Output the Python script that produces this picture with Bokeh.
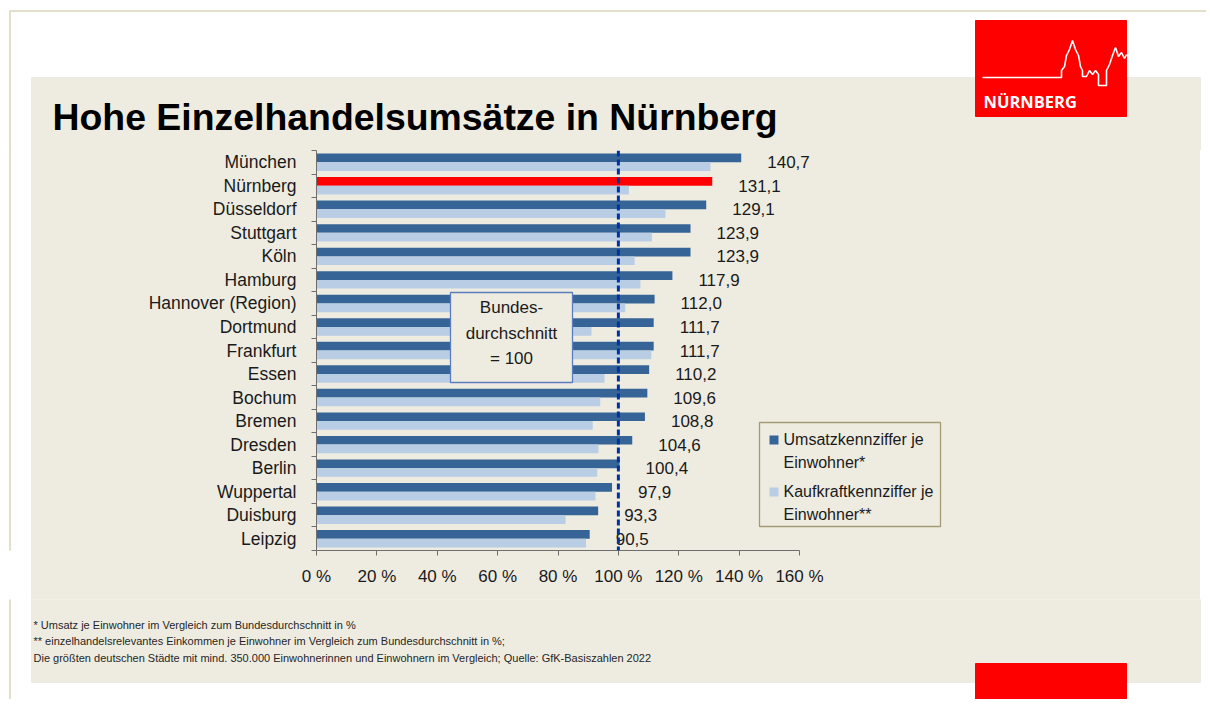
from bokeh.plotting import figure
from bokeh.layouts import column, row
from bokeh.models import (Range1d, FactorRange, LinearAxis, CategoricalAxis, FixedTicker,
                          BoxAnnotation, Label, Span, ColumnDataSource)
from bokeh.transform import dodge
from bokeh.core.properties import value
from bokeh.embed import file_html
from bokeh.resources import INLINE

# ---------------- data ----------------
cities = ["München", "Nürnberg", "Düsseldorf", "Stuttgart", "Köln", "Hamburg",
          "Hannover (Region)", "Dortmund", "Frankfurt", "Essen", "Bochum", "Bremen",
          "Dresden", "Berlin", "Wuppertal", "Duisburg", "Leipzig"]
umsatz = [140.7, 131.1, 129.1, 123.9, 123.9, 117.9, 112.0, 111.7, 111.7, 110.2,
          109.6, 108.8, 104.6, 100.4, 97.9, 93.3, 90.5]
kaufkraft = [130.5, 103.5, 115.6, 111.1, 105.4, 107.3, 102.3, 91.1, 110.9, 95.4,
             94.0, 91.5, 93.4, 93.0, 92.4, 82.5, 89.3]
highlight_city = "Nürnberg"
x_ticks = [0, 20, 40, 60, 80, 100, 120, 140, 160]
x_tick_labels = ["0 %", "20 %", "40 %", "60 %", "80 %", "100 %", "120 %", "140 %", "160 %"]
average_value = 100
legend_labels = [["Umsatzkennziffer je", "Einwohner*"],
                 ["Kaufkraftkennziffer je", "Einwohner**"]]
title_text = "Hohe Einzelhandelsumsätze in Nürnberg"
average_box_lines = ["Bundes-", "durchschnitt", "= 100"]
footnotes = ["* Umsatz je Einwohner im Vergleich zum Bundesdurchschnitt in %",
             "** einzelhandelsrelevantes  Einkommen je Einwohner im Vergleich zum Bundesdurchschnitt in %;",
             "Die größten deutschen Städte mit mind. 350.000 Einwohnerinnen und Einwohnern im Vergleich; Quelle: GfK-Basiszahlen 2022"]
logo_text = "NÜRNBERG"

# ---------------- style ----------------
BEIGE = "#EEECE1"
DARK = "#376496"
LIGHT = "#B9CDE5"
RED = "#FF0000"
AXIS = "#6E6E6E"
TXT = "#1A1A1A"
TAN = "#C8BE96"
FONT = "Liberation Sans"

N = len(cities)
PAGE_W = 1206
FX0, FX1, FY0, FY1 = 316, 799, 150, 550   # 0 % .. 160 % and top/bottom of the bar area (page px)
XMAX = 160
PANEL_L, PANEL_R, PANEL_T, PANEL_B = 31, 1200, 77, 683
CHART_BOTTOM = 600
PAGE_H = 700

def X(px):   # page x pixel -> chart data x (decorations only)
    return (px - FX0) / (FX1 - FX0) * XMAX

def Y(py):   # page y pixel -> synthetic categorical y (decorations only)
    return (FY1 - py) / (FY1 - FY0) * N

def deco_fig(w, y0, y1, x0=0, styles=None):
    f = figure(width=w, height=y1 - y0, x_range=Range1d(x0, x0 + w), y_range=Range1d(y1, y0),
               output_backend="svg", toolbar_location=None, min_border=0,
               x_axis_location=None, y_axis_location=None, outline_line_color=None,
               background_fill_color="white", border_fill_color="white",
               styles=styles or {})
    f.grid.visible = False
    return f

# ---------------- header ----------------
head = deco_fig(PAGE_W, 0, FY0)
head.quad(left=PANEL_L, right=PANEL_R, top=PANEL_T, bottom=FY0 + 4, color=BEIGE)
head.segment(x0=10, y0=10.5, x1=PAGE_W + 4, y1=10.5, line_color=TAN, line_width=1)
head.segment(x0=9.5, y0=10, x1=9.5, y1=FY0 + 4, line_color=TAN, line_width=1)
head.quad(left=975, right=1126, top=20, bottom=116, color=RED)
sky_x = [982, 1061, 1061, 1064, 1066, 1069, 1072, 1075, 1078, 1080, 1082, 1082, 1086, 1089,
         1092, 1095, 1098, 1098, 1106, 1106, 1109, 1112, 1115, 1118, 1121, 1124, 1126]
sky_y = [77, 77, 70, 66, 55, 49, 40, 49, 55, 66, 70, 76, 76, 70, 74, 70, 74, 85, 85, 70,
         64, 55, 47, 56, 52, 58, 54]
head.line(sky_x, sky_y, line_color="white", line_width=1.6)
head.text(x=[983], y=[101], text=[logo_text], text_font=value("Open Sans"),
          text_font_style="bold", text_font_size=value("16.5px"), text_color="white",
          text_baseline="middle")
head.text(x=[52], y=[116], text=[title_text], text_font=value(FONT),
          text_font_style="bold", text_font_size=value("37.4px"), text_color="black",
          text_baseline="middle")

# ---------------- left white strip (with the thin page border line) ----------------
strip = deco_fig(PANEL_L, FY0, CHART_BOTTOM, styles={
    "background-image": f"linear-gradient(to right, white 9px, {TAN} 9px, {TAN} 10px, white 10px)"})
strip.segment(x0=9.5, y0=FY0 - 4, x1=9.5, y1=CHART_BOTTOM + 4, line_color=TAN, line_width=1)

# ---------------- chart ----------------
colors = [RED if c == highlight_city else DARK for c in cities]
labels = [f"{v:.1f}".replace(".", ",") for v in umsatz]
src = ColumnDataSource(dict(city=cities, umsatz=umsatz, kaufkraft=kaufkraft,
                            color=colors, label=labels))

frame_w = PANEL_R - FX0
p = figure(width=PANEL_R - PANEL_L, height=CHART_BOTTOM - FY0,
           frame_width=frame_w, frame_height=FY1 - FY0,
           x_range=Range1d(0, frame_w / (FX1 - FX0) * XMAX),
           y_range=FactorRange(factors=cities[::-1], range_padding=0),
           output_backend="svg", toolbar_location=None,
           x_axis_location=None, y_axis_location=None,
           min_border_left=FX0 - PANEL_L, min_border_right=0,
           min_border_top=0, min_border_bottom=CHART_BOTTOM - FY1,
           border_fill_color=BEIGE, background_fill_color=BEIGE,
           outline_line_color=None, styles={"background-color": BEIGE})
p.xgrid.visible = False
p.ygrid.visible = False

xaxis = LinearAxis(ticker=FixedTicker(ticks=x_ticks), bounds=(0, XMAX),
                   major_label_overrides=dict(zip(x_ticks, x_tick_labels)),
                   axis_line_color=AXIS, major_tick_line_color=AXIS,
                   major_tick_out=5, major_tick_in=0, minor_tick_out=0, minor_tick_in=0,
                   major_label_text_font=FONT, major_label_text_font_size="17px",
                   major_label_text_color=TXT, major_label_standoff=11)
p.add_layout(xaxis, "below")

# boundary tick marks between the categories (synthetic coordinates 0..N)
tick_axis = LinearAxis(ticker=FixedTicker(ticks=list(range(N + 1))),
                       major_label_overrides={i: "" for i in range(N + 1)},
                       major_label_text_font_size="1px", major_label_standoff=0,
                       axis_line_color=AXIS, major_tick_line_color=AXIS,
                       major_tick_out=5, major_tick_in=0, minor_tick_out=0, minor_tick_in=0)
p.add_layout(tick_axis, "left")

cat_axis = CategoricalAxis(axis_line_color=None, major_tick_line_color=None,
                           major_tick_out=0, major_tick_in=0,
                           major_label_text_font=FONT, major_label_text_font_size="17.5px",
                           major_label_text_color=TXT, major_label_standoff=15)
p.add_layout(cat_axis, "left")

p.hbar(y=dodge("city", 0.185, range=p.y_range), left=0, right="umsatz", height=0.37,
       fill_color="color", line_color=None, source=src)
p.hbar(y=dodge("city", -0.185, range=p.y_range), left=0, right="kaufkraft", height=0.37,
       fill_color=LIGHT, line_color=None, source=src)

p.add_layout(Span(location=average_value, dimension="height", line_color="#0033A0",
                  line_width=3, line_dash="6 3"))

def box(l, r, t, b, fill, line=None, lw=1.0):
    return BoxAnnotation(left=X(l), right=X(r), top=Y(t), bottom=Y(b),
                         fill_color=fill, fill_alpha=1,
                         line_color=line, line_alpha=1 if line else 0, line_width=lw)

def lab(x, y, text, size, align="left"):
    return Label(x=X(x), y=Y(y), text=text, text_font=FONT, text_font_size=size,
                 text_color=TXT, text_align=align, text_baseline="middle")

# "Bundesdurchschnitt = 100" box
p.add_layout(box(450, 572, 292, 382, BEIGE, "#5B7DC0", 1.3))
for i, t in enumerate(average_box_lines):
    p.add_layout(lab(511, 307 + i * 25.5, t, "17px", align="center"))

# value labels
p.text(x="umsatz", y="city", text="label", source=src, x_offset=26,
       text_font=value(FONT), text_font_size=value("17px"), text_color=TXT,
       text_baseline="middle")

# legend
p.add_layout(box(759, 940, 422, 526, BEIGE, "#A39B73", 1.3))
p.add_layout(box(769, 778, 435, 444, DARK))
p.add_layout(box(769, 778, 487, 496, LIGHT))
for j, lines in enumerate(legend_labels):
    for k, t in enumerate(lines):
        p.add_layout(lab(783, 439 + j * 52 + k * 23, t, "16px"))

# ---------------- footer ----------------
foot = deco_fig(PAGE_W, CHART_BOTTOM, PAGE_H, styles={"margin-top": "-1px"})
foot.quad(left=PANEL_L, right=PANEL_R, top=CHART_BOTTOM - 4, bottom=PANEL_B, color=BEIGE)
foot.segment(x0=9.5, y0=CHART_BOTTOM - 4, x1=9.5, y1=PAGE_H + 4, line_color=TAN, line_width=1)
foot.quad(left=975, right=1126, top=664, bottom=PAGE_H + 4, color=RED)
foot.text(x=[33, 33, 33], y=[625, 641.5, 658], text=footnotes, text_font=value(FONT),
          text_font_size=value("11px"), text_color="#262626", text_baseline="middle")

layout = column(head, row(strip, p, spacing=0), foot, spacing=0)

with open("out.html", "w", encoding="utf-8") as f:
    f.write(file_html(layout, INLINE, "Einzelhandel"))
